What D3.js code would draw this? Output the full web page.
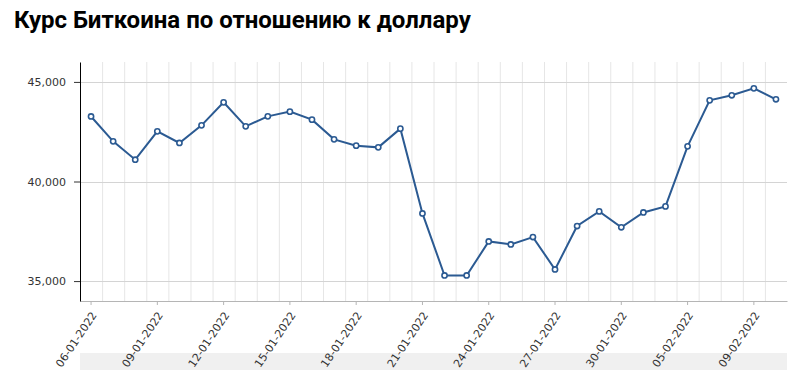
<!DOCTYPE html>
<html lang="ru">
<head>
<meta charset="UTF-8">
<title>Курс Биткоина по отношению к доллару</title>
<script src="https://d3js.org/d3.v7.min.js"></script>
<style>
    body { margin: 0; background: #fff; }
    .title { font-family: Roboto, sans-serif; font-weight: bold; font-size: 24px; fill: #000; }
    .axis text { font-family: "DejaVu Sans", Verdana, sans-serif; font-size: 11px; fill: #333; }
</style>
</head>
<body>
<div id="chart"></div>
<script>
    const dates = [
        "06-01-2022", "07-01-2022", "08-01-2022", "09-01-2022", "10-01-2022", "11-01-2022",
        "12-01-2022", "13-01-2022", "14-01-2022", "15-01-2022", "16-01-2022", "17-01-2022",
        "18-01-2022", "19-01-2022", "20-01-2022", "21-01-2022", "22-01-2022", "23-01-2022",
        "24-01-2022", "25-01-2022", "26-01-2022", "27-01-2022", "28-01-2022", "29-01-2022",
        "30-01-2022", "31-01-2022", "03-02-2022", "05-02-2022", "07-02-2022", "08-02-2022",
        "09-02-2022", "10-02-2022"
    ];
    const prices = [
        43265, 42015, 41095, 42518, 41935, 42819, 43975, 42769, 43271, 43508, 43106, 42116,
        41799, 41714, 42653, 38397, 35282, 35282, 36990, 36840, 37210, 35583, 37764, 38500,
        37700, 38447, 38750, 41765, 44075, 44327, 44678, 44126
    ];
    const yTicks = [35000, 40000, 45000];
    const shownDates = dates.filter((d, i) => i % 3 === 0);

    const width = 796, height = 370;
    const margin = { top: 62, right: 9, bottom: 69, left: 80 };
    const innerW = width - margin.left - margin.right;
    const innerH = height - margin.top - margin.bottom;

    const svg = d3.select("#chart").append("svg")
        .attr("width", width)
        .attr("height", height);

    svg.append("text")
        .attr("class", "title")
        .attr("x", 14)
        .attr("y", 28)
        .text("Курс Биткоина по отношению к доллару");

    // bottom strip (under the axis labels)
    svg.append("rect")
        .attr("x", margin.left)
        .attr("y", 353)
        .attr("width", innerW)
        .attr("height", height - 353)
        .attr("fill", "#f0f0f0");

    const g = svg.append("g")
        .attr("transform", `translate(${margin.left},${margin.top})`);

    const x = d3.scaleBand()
        .domain(dates)
        .range([0, innerW]);

    const y = d3.scaleLinear()
        .domain([34000, 46000])
        .range([innerH, 0]);

    // vertical grid at band edges
    g.append("g")
        .selectAll("line")
        .data(dates.slice(1))
        .enter()
        .append("line")
        .attr("x1", d => x(d) + 0.5)
        .attr("x2", d => x(d) + 0.5)
        .attr("y1", 0)
        .attr("y2", innerH)
        .attr("stroke", "#e6e6e6");

    // horizontal grid
    g.append("g")
        .selectAll("line")
        .data(yTicks)
        .enter()
        .append("line")
        .attr("x1", 0)
        .attr("x2", innerW)
        .attr("y1", d => Math.round(y(d)) + 0.5)
        .attr("y2", d => Math.round(y(d)) + 0.5)
        .attr("stroke", "#d4d4d4");

    const xAxis = g.append("g")
        .attr("class", "axis")
        .attr("transform", `translate(0,${innerH})`)
        .call(d3.axisBottom(x).tickValues(shownDates).tickSize(4).tickSizeOuter(0));
    xAxis.select(".domain").attr("stroke", "#b5b5b5");
    xAxis.selectAll(".tick line").attr("stroke", "#b5b5b5");
    xAxis.selectAll("text")
        .attr("text-anchor", "end")
        .attr("x", 0)
        .attr("y", 0)
        .attr("dy", "0.35em")
        .attr("transform", "translate(3,12) rotate(-56)");

    const yAxis = g.append("g")
        .attr("class", "axis")
        .call(d3.axisLeft(y).tickValues(yTicks).tickSize(6).tickPadding(8)
            .tickSizeOuter(0).tickFormat(d3.format(",")));
    yAxis.select(".domain").attr("stroke", "#000");
    yAxis.selectAll(".tick line").attr("stroke", "#333");

    const lineColor = "#2b5a92";

    g.append("path")
        .datum(prices)
        .attr("fill", "none")
        .attr("stroke", lineColor)
        .attr("stroke-width", 2)
        .attr("d", d3.line()
            .x((d, i) => x(dates[i]) + x.bandwidth() / 2)
            .y(d => y(d)));

    g.selectAll(".dot")
        .data(prices)
        .enter()
        .append("circle")
        .attr("class", "dot")
        .attr("cx", (d, i) => x(dates[i]) + x.bandwidth() / 2)
        .attr("cy", d => y(d))
        .attr("r", 2.6)
        .attr("fill", "#fff")
        .attr("stroke", lineColor)
        .attr("stroke-width", 1.6);
</script>
</body>
</html>
